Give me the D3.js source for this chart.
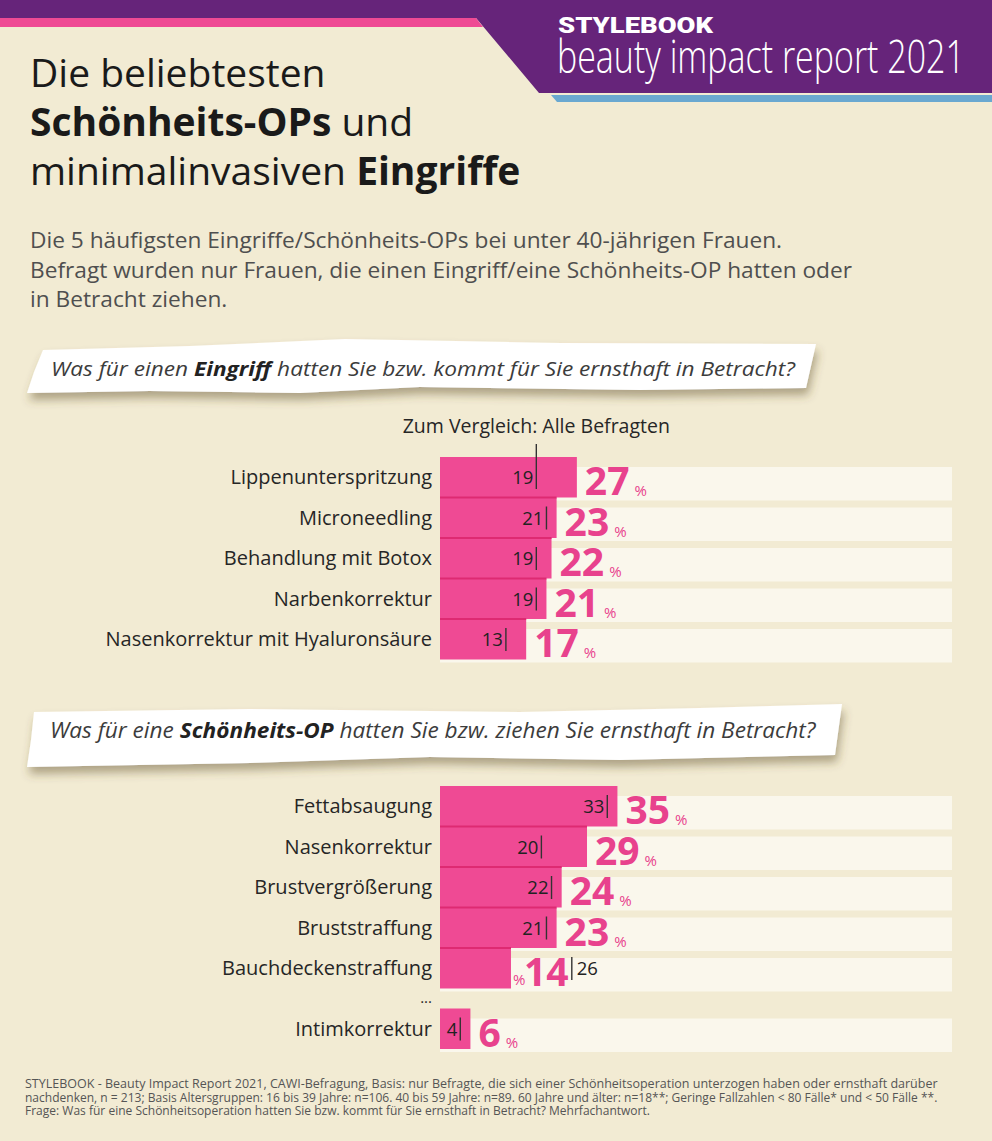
<!DOCTYPE html>
<html><head><meta charset="utf-8">
<script src="https://cdn.jsdelivr.net/npm/d3@7"></script>
<style>
html,body{margin:0;padding:0;background:#f2ebd3;}
svg{display:block;font-family:"Open Sans",sans-serif;}
</style></head>
<body>
<svg id="chart" width="992" height="1141"></svg>
<script>
// ---------- data ----------
const eingriffeCategories = ["Lippenunterspritzung","Microneedling","Behandlung mit Botox","Narbenkorrektur","Nasenkorrektur mit Hyaluronsäure"];
const eingriffeValues = [27,23,22,21,17];
const eingriffeAlle = [19,21,19,19,13];

const opCategories = ["Fettabsaugung","Nasenkorrektur","Brustvergrößerung","Bruststraffung","Bauchdeckenstraffung","Intimkorrektur"];
const opValues = [35,29,24,23,14,6];
const opAlle = [33,20,22,21,26,4];

const titleLines = [
  [["Die beliebtesten",400]],
  [["Schönheits-OPs",700],[" und",400]],
  [["minimalinvasiven ",400],["Eingriffe",700]]
];
const subtitleLines = [
  "Die 5 häufigsten Eingriffe/Schönheits-OPs bei unter 40-jährigen Frauen.",
  "Befragt wurden nur Frauen, die einen Eingriff/eine Schönheits-OP hatten oder",
  "in Betracht ziehen."
];
const question1 = [["Was für einen ",400],["Eingriff",700],[" hatten Sie bzw. kommt für Sie ernsthaft in Betracht?",400]];
const question2 = [["Was für eine ",400],["Schönheits-OP",700],[" hatten Sie bzw. ziehen Sie ernsthaft in Betracht?",400]];
const footerLines = [
  "STYLEBOOK - Beauty Impact Report 2021, CAWI-Befragung, Basis: nur Befragte, die sich einer Schönheitsoperation unterzogen haben oder ernsthaft darüber",
  "nachdenken, n = 213; Basis Altersgruppen: 16 bis 39 Jahre: n=106. 40 bis 59 Jahre: n=89. 60 Jahre und älter: n=18**; Geringe Fallzahlen < 80 Fälle* und < 50 Fälle **.",
  "Frage: Was für eine Schönheitsoperation hatten Sie bzw. kommt für Sie ernsthaft in Betracht? Mehrfachantwort."
];
const compareLabel = "Zum Vergleich: Alle Befragten";

// ---------- setup ----------
const W = 992, H = 1141;
const svg = d3.select("#chart");
const C = {bg:"#f2ebd3", purple:"#66247a", pink:"#ef4a94", pinkDark:"#de2a72", pinkText:"#e8428d", blue:"#6aa8d0", track:"#faf7ec", text:"#262626", grey:"#4f4f4f"};

svg.append("rect").attr("width",W).attr("height",H).attr("fill",C.bg);

const defs = svg.append("defs");
const f = defs.append("filter").attr("id","shadow").attr("x","-10%").attr("y","-40%").attr("width","120%").attr("height","200%");
f.append("feDropShadow").attr("dx",2).attr("dy",7).attr("stdDeviation",5).attr("flood-color","#5a4a20").attr("flood-opacity",0.45);

// fit a text horizontally to a target width via transform
function fitText(sel, x, y, target){
  const w = sel.node().getComputedTextLength();
  sel.attr("x",0).attr("y",0).attr("transform",`translate(${x},${y}) scale(${target/w},1)`);
  return sel;
}

// ---------- header ----------
const line = d3.line();
svg.append("path").attr("d", line([[0,0],[W,0],[W,93],[539,93],[476,18],[0,18]]) + "Z").attr("fill",C.purple);
svg.append("path").attr("d", line([[0,18],[476,18],[483,27],[0,27]]) + "Z").attr("fill",C.pink);
svg.append("path").attr("d", line([[551,95],[W,95],[W,102],[557,102]]) + "Z").attr("fill",C.blue);
fitText(svg.append("text").attr("fill","#fff").attr("font-family","Roboto, sans-serif").attr("font-weight",900)
  .attr("font-size",22).text("STYLEBOOK"), 558, 33, 155);
fitText(svg.append("text").attr("fill","#fff").attr("font-weight",300)
  .attr("font-size",46).text("beauty impact report 2021"), 557, 73, 408);

// ---------- title ----------
titleLines.forEach((parts,i)=>{
  const t = svg.append("text").attr("x",30).attr("y",87+i*49).attr("font-size",39).attr("fill","#1a1a1a");
  parts.forEach(p=>t.append("tspan").attr("font-weight",p[1]).text(p[0]));
});
subtitleLines.forEach((s,i)=>{
  svg.append("text").attr("x",30).attr("y",248+i*29.5).attr("font-size",22.7).attr("fill",C.grey).text(s);
});

// ---------- question banners ----------
function banner(points, textParts, tx, ty, fs, tlen){
  const g = svg.append("g");
  g.append("path").attr("d", line(points)+"Z").attr("fill","#fff").attr("filter","url(#shadow)");
  const t = g.append("text").attr("font-size",fs).attr("font-style","italic").attr("fill","#3c3c3c");
  textParts.forEach(p=>t.append("tspan").attr("font-weight",p[1]).attr("fill",p[1]>500?"#222":"#3c3c3c").text(p[0]));
  fitText(t, tx, ty, tlen);
}
banner([[43,350],[190,346],[345,339],[560,343],[816,344],[806,388],[640,390],[420,387],[300,393],[150,391],[27,393],[34,372]],
  question1, 51, 376, 20, 744);
banner([[34,712],[250,709],[520,712],[700,708],[842,704],[835,755],[620,760],[430,757],[250,763],[27,767],[31,740]],
  question2, 50, 738, 21, 766);

// ---------- bars ----------
const x = d3.scaleLinear().domain([0,101]).range([440,952]);
const trackEnd = x.range()[1];

function group(cats, vals, alle, top, gapAfter, gap, showCompare){
  const y = d3.scaleBand().domain(cats).range([top, top + cats.length*40.5]).paddingInner(0);
  const rowTop = (d,i)=> y(d) + (gapAfter!=null && i>gapAfter ? gap : 0);
  const bh = y.bandwidth();
  const g = svg.append("g");
  const rows = cats.map((c,i)=>({c, v:vals[i], a:alle[i], i, top:rowTop(c,i)}));

  g.selectAll("rect.track").data(rows).join("rect").attr("class","track")
    .attr("x",x(0)).attr("y",d=>d.top+10).attr("width",trackEnd-x(0)).attr("height",bh-7).attr("fill",C.track);
  g.selectAll("rect.bar").data(rows).join("rect").attr("class","bar")
    .attr("x",x(0)).attr("y",d=>d.top).attr("width",d=>x(d.v)-x(0)).attr("height",bh).attr("fill",C.pink);
  g.selectAll("rect.edge").data(rows.filter(d=>d.i>0 && !(gapAfter!=null && d.i===gapAfter+1))).join("rect").attr("class","edge")
    .attr("x",x(0)).attr("y",d=>d.top-1).attr("width",d=>x(d.v)-x(0)).attr("height",2).attr("fill",C.pinkDark);
  g.selectAll("text.cat").data(rows).join("text").attr("class","cat")
    .attr("x",432).attr("y",d=>d.top+27).attr("text-anchor","end").attr("font-size",20).attr("fill",C.text).text(d=>d.c);
  g.selectAll("line.tick").data(rows).join("line").attr("class","tick")
    .attr("x1",d=>x(d.a)).attr("x2",d=>x(d.a))
    .attr("y1",d=>(showCompare && d.i===0) ? top-13 : d.top+9).attr("y2",d=>d.top+32)
    .attr("stroke","#333").attr("stroke-width",1.4);
  g.selectAll("text.ref").data(rows).join("text").attr("class","ref")
    .attr("x",d=>d.a>d.v ? x(d.a)+5 : x(d.a)-3).attr("y",d=>d.top+27)
    .attr("text-anchor",d=>d.a>d.v ? "start":"end").attr("font-size",18.5).attr("fill","#222").text(d=>d.a);
  rows.forEach(d=>{
    if (d.a > d.v){
      g.append("text").attr("x",x(d.v)+2).attr("y",d.top+37).attr("font-size",15).attr("fill",C.pinkText).text("%");
      g.append("text").attr("x",x(d.v)+13).attr("y",d.top+38).attr("font-size",39).attr("font-weight",700).attr("fill",C.pinkText).text(d.v);
    } else {
      const t = g.append("text").attr("x",x(d.v)+8).attr("y",d.top+38).attr("font-size",39).attr("font-weight",700).attr("fill",C.pinkText).text(d.v);
      const w = t.node().getComputedTextLength();
      g.append("text").attr("x",x(d.v)+8+w+5).attr("y",d.top+39).attr("font-size",15).attr("fill",C.pinkText).text("%");
    }
  });
  if (showCompare){
    g.append("text").attr("x",x(alle[0])).attr("y",top-24).attr("text-anchor","middle").attr("font-size",19.5).attr("fill",C.text).text(compareLabel);
  }
  if (gapAfter!=null){
    g.append("text").attr("x",432).attr("y",rowTop(cats[gapAfter],gapAfter)+bh+14).attr("text-anchor","end").attr("font-size",15).attr("fill",C.text).text("...");
  }
}
group(eingriffeCategories, eingriffeValues, eingriffeAlle, 457, null, 0, true);
group(opCategories, opValues, opAlle, 786, 4, 20, false);

// ---------- footer ----------
const footerLens = [913, 913, 625];
footerLines.forEach((s,i)=>{
  fitText(svg.append("text").attr("font-size",11.8).attr("fill","#555").text(s), 25, 1088+i*13.5, footerLens[i]);
});
</script>
</body></html>
